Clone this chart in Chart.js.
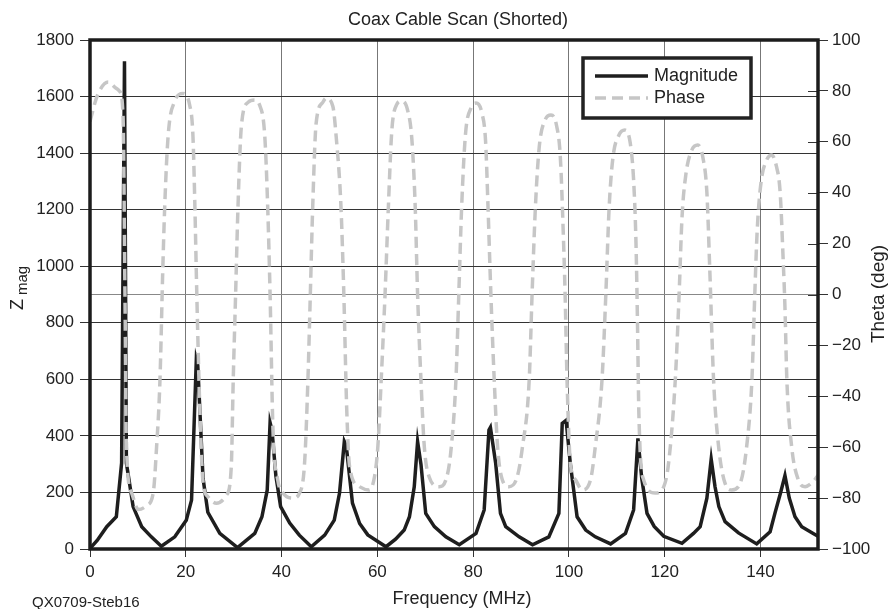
<!DOCTYPE html>
<html>
<head>
<meta charset="utf-8">
<script src="https://cdn.jsdelivr.net/npm/chart.js@4.4.1/dist/chart.umd.min.js"></script>
<style>
  html, body { margin: 0; padding: 0; background: #fff; }
</style>
</head>
<body>
<canvas id="graph1" width="893" height="609"></canvas>
<script>
// magnitude (Z mag) samples
var magFreq = [0, 1.5, 3.5, 5.5, 6.6, 7.2, 7.6, 9.0, 10.8, 12.8, 14.9,
  17.7, 20.1, 21.2, 22.2, 22.5, 23.6, 24.6, 27.1, 30.8,
  34.4, 35.9, 37.0, 37.6, 38.0, 38.8, 39.8, 41.7, 43.7, 46.2,
  49.0, 51.0, 52.1, 53.1, 53.5, 54.8, 56.3, 58.0, 61.8,
  63.8, 65.6, 66.7, 67.7, 68.4, 69.1, 70.1, 71.9, 74.3, 77.1,
  80.6, 82.3, 83.3, 83.6, 84.7, 85.7, 86.8, 89.6, 92.4,
  95.8, 97.9, 98.6, 99.4, 100.3, 101.7, 103.5, 105.5, 108.7,
  111.8, 113.5, 114.4, 115.2, 116.3, 117.8, 119.8, 123.6,
  126.0, 127.4, 128.8, 129.7, 130.5, 131.3, 132.6, 135.4, 139.2,
  142.0, 143.0, 144.2, 145.1, 146.0, 147.2, 148.6, 151.0, 152];
var magValues = [2, 30, 79, 114, 304, 1725, 304, 150, 79, 43, 10,
  43, 102, 173, 670, 650, 250, 130, 55, 5,
  55, 114, 208, 447, 420, 260, 150, 92, 49, 8,
  49, 102, 198, 380, 365, 162, 90, 50, 8,
  35, 67, 114, 220, 380, 300, 126, 79, 43, 15,
  55, 138, 421, 430, 303, 126, 79, 43, 15,
  43, 126, 444, 455, 300, 114, 67, 43, 18,
  55, 138, 391, 250, 126, 80, 45, 20,
  55, 79, 180, 318, 220, 150, 97, 57, 18,
  61, 126, 200, 260, 180, 114, 79, 55, 45];

// phase (theta, deg) samples
var phaseFreq = [0, 1.5, 3.8, 5.5, 6.25, 6.9, 7.3, 7.6, 8.7, 10.1, 11.8, 13.2, 13.9, 14.6,
  15.2, 15.6, 16.3, 17.7, 19.4, 20.8, 21.5, 21.9, 22.3, 22.9, 23.6, 24.6, 26.4, 28.5, 29.5, 29.9,
  30.4, 30.9, 31.6, 33.0, 34.4, 35.4, 36.5, 37.1, 37.6, 38.2, 39.2, 40.3, 42.4, 43.75, 44.8, 45.5,
  46.0, 46.5, 47.2, 48.6, 49.3, 50.7, 51.4, 52.4, 53.0, 53.6, 54.2, 56.25, 58.3, 59.4, 60.1, 60.8,
  61.6, 62.3, 63.0, 64.0, 65.0, 66.3, 67.2, 67.9, 68.4, 69.1, 69.8, 70.8, 72.9, 74.3, 75.3, 76.4,
  77.0, 77.6, 78.4, 79.6, 80.6, 81.8, 82.6, 83.1, 83.7, 84.4, 85.1, 86.1, 87.5, 89.2, 90.3, 91.7,
  92.3, 93.0, 93.8, 95.0, 96.25, 97.4, 98.2, 98.8, 99.2, 99.6, 100.3, 101.4, 102.8, 104.5, 105.5, 106.9,
  107.7, 108.4, 109.2, 110.4, 111.7, 112.8, 113.5, 114.0, 114.3, 114.6, 115.6, 118.0, 119.8, 120.8, 122.2,
  123.0, 123.6, 124.4, 125.6, 126.9, 128.0, 128.8, 129.4, 130.2, 131.25, 132.6, 134.0, 135.75, 137.1, 138.2,
  138.8, 139.3, 140.1, 141.2, 142.3, 143.3, 144.1, 144.7, 145.1, 145.5, 146.5, 147.9, 149.3, 151.0, 152];
var phaseValues = [68, 78, 83.5, 81, 79.7, 70, 0, -60, -78, -84.5, -83, -78, -60, -34,
  10, 34.5, 62, 76, 79, 74.5, 62, 34.5, 0, -43, -73.7, -79.4, -82, -78.8, -67.6, -34,
  0, 34.5, 66, 75.5, 76.4, 74.5, 62, 34.5, 0, -53, -72.9, -78, -80, -78, -66.3, -33.6,
  0, 34.5, 67, 75.5, 77.1, 74, 62, 34.5, 0, -45, -67.6, -75.5, -76.8, -71.6, -59.8, -33.6,
  0, 34.5, 64, 74.5, 76, 72.5, 61, 34.5, 0, -33.6, -59.8, -71.6, -75.5, -72.9, -62.4, -33.6,
  0, 34.5, 63, 73.5, 75.2, 71.5, 60, 34.5, 0, -33.6, -59.8, -72.9, -75.5, -71.6, -59.8, -33.6,
  0, 34.5, 58, 68.5, 70.5, 66.5, 54, 25, 0, -33.6, -66.3, -72.9, -76.8, -72.9, -59.8, -33.6,
  0, 34.5, 54, 62.5, 64.6, 59.5, 45, 20, -10, -46.7, -72.9, -78, -75.5, -66.3, -33.6,
  0, 30, 47, 56.5, 58.7, 53.5, 40, 10, -33.6, -59.8, -74.2, -76.8, -74.2, -59.8, -33.6,
  0, 25, 44, 52.5, 54.8, 50.5, 40, 15, -5, -33.6, -59.8, -72.9, -75.5, -73.5, -71];

var FONT = '"Liberation Sans", Arial, Helvetica, sans-serif';

function pts(xs, ys) {
  return xs.map(function (x, i) { return { x: x, y: ys[i] }; });
}

var decor = {
  id: 'decor',
  afterDraw: function (chart) {
    var ctx = chart.ctx;
    var a = chart.chartArea;
    var ds = chart.data.datasets;
    ctx.save();

    // right axis ticks cross into the plot
    var y1 = chart.scales.y1;
    ctx.strokeStyle = '#333';
    ctx.lineWidth = 1;
    y1.ticks.forEach(function (t) {
      var yy = Math.round(y1.getPixelForValue(t.value)) + 0.5;
      ctx.beginPath();
      ctx.moveTo(a.right - 10, yy);
      ctx.lineTo(a.right, yy);
      ctx.stroke();
    });

    // frame
    ctx.strokeStyle = '#1c1c1c';
    ctx.lineWidth = 3.5;
    ctx.strokeRect(a.left, a.top, a.right - a.left, a.bottom - a.top);

    // texts
    ctx.fillStyle = '#222';
    ctx.textBaseline = 'middle';
    ctx.textAlign = 'center';
    ctx.font = '18px ' + FONT;
    ctx.fillText('Coax Cable Scan (Shorted)', 458, 20);
    ctx.fillText('Frequency (MHz)', 462, 599);

    ctx.textAlign = 'left';
    ctx.font = '15px ' + FONT;
    ctx.fillText('QX0709-Steb16', 32, 603);

    // Z_mag
    ctx.save();
    ctx.translate(18, 300);
    ctx.rotate(-Math.PI / 2);
    ctx.textBaseline = 'alphabetic';
    ctx.font = '18px ' + FONT;
    ctx.fillText('Z', -10, 5);
    ctx.font = '15px ' + FONT;
    ctx.fillText('mag', 5, 9);
    ctx.restore();

    // Theta (deg)
    ctx.save();
    ctx.translate(879, 294);
    ctx.rotate(-Math.PI / 2);
    ctx.textAlign = 'center';
    ctx.font = '19px ' + FONT;
    ctx.fillText('Theta (deg)', 0, 0);
    ctx.restore();

    // legend box
    var lx = 583, ly = 58, lw = 168, lh = 60;
    ctx.fillStyle = '#fff';
    ctx.fillRect(lx, ly, lw, lh);
    ctx.strokeStyle = '#222';
    ctx.lineWidth = 3.5;
    ctx.strokeRect(lx, ly, lw, lh);
    var rows = [76, 98];
    ds.forEach(function (d, i) {
      ctx.beginPath();
      ctx.strokeStyle = d.borderColor;
      ctx.lineWidth = d.borderWidth;
      ctx.setLineDash(d.borderDash || []);
      ctx.moveTo(595, rows[i]);
      ctx.lineTo(648, rows[i]);
      ctx.stroke();
      ctx.setLineDash([]);
      ctx.fillStyle = '#222';
      ctx.font = '18px ' + FONT;
      ctx.textAlign = 'left';
      ctx.textBaseline = 'middle';
      ctx.fillText(d.label, 654, rows[i]);
    });

    ctx.restore();
  }
};

var ctx = document.getElementById('graph1').getContext('2d');

var config = {
  type: 'line',
  data: {
    datasets: [
      {
        label: 'Magnitude',
        data: pts(magFreq, magValues),
        yAxisID: 'y',
        borderColor: '#1e1e1e',
        borderWidth: 3.5,
        tension: 0,
        pointRadius: 0,
        order: 1
      },
      {
        label: 'Phase',
        data: pts(phaseFreq, phaseValues),
        yAxisID: 'y1',
        borderColor: '#c6c6c6',
        borderWidth: 3.5,
        borderDash: [11, 6],
        cubicInterpolationMode: 'monotone',
        pointRadius: 0,
        order: 0
      }
    ]
  },
  options: {
    responsive: false,
    animation: false,
    layout: { padding: { top: 40, left: 0, right: 0, bottom: 0 } },
    plugins: { legend: { display: false }, tooltip: { enabled: false } },
    scales: {
      x: {
        type: 'linear',
        min: 0,
        max: 152,
        afterFit: function (s) { s.height = 60; },
        ticks: {
          stepSize: 20, includeBounds: false, color: '#222', padding: 5, font: { family: FONT, size: 17 },
          callback: function (v) { return String(v); }
        },
        grid: { color: '#777', lineWidth: 1, tickLength: 8, tickColor: '#333' },
        border: { display: false }
      },
      y: {
        position: 'left',
        min: 0,
        max: 1800,
        afterFit: function (s) { s.width = 90; },
        ticks: {
          stepSize: 200, color: '#222', padding: 6, font: { family: FONT, size: 17 },
          callback: function (v) { return String(v); }
        },
        grid: { color: '#333', lineWidth: 1, tickLength: 10, tickColor: '#333' },
        border: { display: false }
      },
      y1: {
        position: 'right',
        min: -100,
        max: 100,
        afterFit: function (s) { s.width = 75; },
        ticks: {
          stepSize: 20, color: '#222', padding: 4, font: { family: FONT, size: 17 },
          callback: function (v) { return v < 0 ? '\u2212' + Math.abs(v) : String(v); }
        },
        grid: {
          drawOnChartArea: true,
          color: function (c) { return c.tick && c.tick.value === 0 ? '#888' : 'rgba(0,0,0,0)'; },
          lineWidth: 1, tickLength: 10, tickColor: '#333'
        },
        border: { display: false }
      }
    }
  },
  plugins: [decor]
};

var graph1 = new Chart(ctx, config);
</script>
</body>
</html>
